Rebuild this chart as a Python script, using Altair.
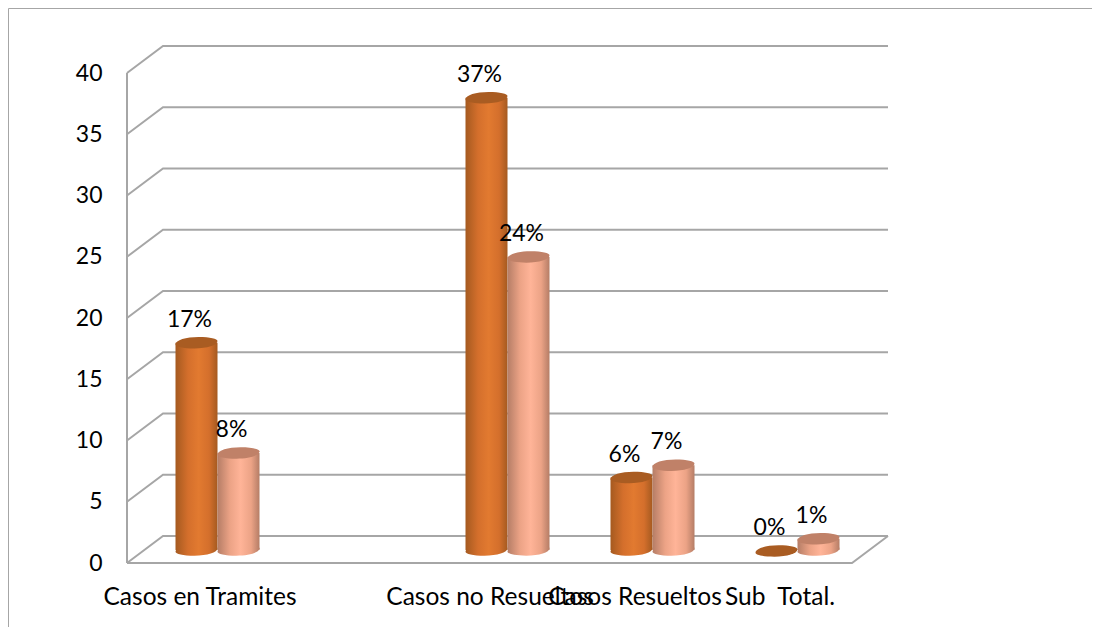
import json
import altair as alt
import pandas as pd

categories = ["Casos en Tramites", " ", "Casos no Resueltos", "Casos Resueltos", "Sub \u00a0Total."]
serie_a = [17, None, 37, 6, 0]
serie_b = [8, None, 24, 7, 1]
y_ticks = [0, 5, 10, 15, 20, 25, 30, 35, 40]

# 3D layout in data units
DX = 36 / 145      # wall depth along x (category units)
DY = 27 / 12.25    # wall depth along y (value units)
BX = 18 / 145      # depth of the bars along x
BY = 13 / 12.25    # depth of the bars along y (base)
TY = 12 / 12.25    # depth of the bars along y (top)
BW = 42 / 145      # bar width
N = len(categories)

FONT = "Lato"
GRID = "#a6a6a6"
rows = []
for i, (a, b) in enumerate(zip(serie_a, serie_b)):
    for s, v in (("a", a), ("b", b)):
        if v is None:
            continue
        c = i + 0.5 + BX
        x0 = c - BW if s == "a" else c
        rows.append(dict(serie=s, value=v, x0=x0, x1=x0 + BW, xc=x0 + BW / 2,
                         y0=BY, y1=v + TY, label=f"{v}%"))
bars = pd.DataFrame(rows)

grid_rows = []
for t in y_ticks:
    grid_rows += [dict(t=t, o=0, x=0, y=t), dict(t=t, o=1, x=DX, y=t + DY),
                  dict(t=t, o=2, x=N + DX, y=t + DY)]
grid = pd.DataFrame(grid_rows)
floor = pd.DataFrame([dict(o=0, x=0, y=0), dict(o=1, x=N, y=0), dict(o=2, x=N + DX, y=DY)])
wall = pd.DataFrame([dict(o=0, x=0, y=0), dict(o=1, x=0, y=y_ticks[-1])])

xs = alt.Scale(domain=[0, N + DX], nice=False, zero=False)
ys = alt.Scale(domain=[0, y_ticks[-1] + DY], nice=False, zero=False)


def grad(dark, mid, light):
    return alt.Gradient(
        gradient="linear", x1=0, x2=1, y1=0, y2=0,
        stops=[alt.GradientStop(offset=0, color=dark),
               alt.GradientStop(offset=0.3, color=mid),
               alt.GradientStop(offset=0.55, color=light),
               alt.GradientStop(offset=0.8, color=mid),
               alt.GradientStop(offset=1, color=dark)])


ORANGE = grad("#a55a20", "#d46f2c", "#e27a30")
PINK = grad("#b57d66", "#eca386", "#ffb498")
CAP = {"a": "#a95c22", "b": "#c08168"}
ELL = "M -1 0.08 C -1 -0.12 -0.5 -0.27 0.1 -0.27 C 0.65 -0.27 1 -0.18 1 -0.08 C 1 0.12 0.5 0.27 -0.1 0.27 C -0.65 0.27 -1 0.18 -1 0.08 Z"
SIZE = 42 ** 2

x_axis = alt.Axis(
    values=[i + 0.5 for i in range(N)], domain=False, ticks=False, grid=False,
    labelExpr=f"{json.dumps(categories)}[floor(datum.value)]",
    labelFont=FONT, labelFontSize=24.5, labelColor="#000000", labelPadding=22, labelLimit=400,
    labelOverlap=False, labelBound=False, labelFlush=False, title=None)
y_axis = alt.Axis(
    values=y_ticks, domain=False, ticks=False, grid=False,
    labelFont=FONT, labelFontSize=23, labelColor="#000000", labelPadding=25,
    labelOverlap=False, labelBound=False, labelFlush=False, title=None)


def X(f):
    return alt.X(f, scale=xs, axis=x_axis)


def Y(f):
    return alt.Y(f, scale=ys, axis=y_axis)


grid_l = alt.Chart(grid).mark_line(color=GRID, strokeWidth=2).encode(
    x=X("x:Q"), y=Y("y:Q"), detail="t:N", order="o:Q")
floor_l = alt.Chart(floor).mark_line(color=GRID, strokeWidth=2).encode(x=X("x:Q"), y=Y("y:Q"), order="o:Q")
wall_l = alt.Chart(wall).mark_line(color=GRID, strokeWidth=2).encode(x=X("x:Q"), y=Y("y:Q"), order="o:Q")

frame_top = alt.Chart().mark_rule(color="#a6a6a6", strokeWidth=1).encode(
    x=alt.value(-118.5), x2=alt.value(965), y=alt.value(-37.5))
frame_left = alt.Chart().mark_rule(color="#a6a6a6", strokeWidth=1).encode(
    x=alt.value(-118.5), y=alt.value(-37.5), y2=alt.value(581))


def cylinder(serie, fill):
    d = bars[bars.serie == serie]
    dv = d[d.value > 0]
    base = alt.Chart(dv).mark_point(shape=ELL, size=SIZE, filled=True, opacity=1, fill=fill, stroke=None).encode(
        x=X("xc:Q"), y=Y("y0:Q"))
    body = alt.Chart(dv).mark_rect(fill=fill).encode(
        x=X("x0:Q"), x2="x1:Q", y=Y("y0:Q"), y2="y1:Q")
    cap = alt.Chart(d).mark_point(shape=ELL, size=SIZE, filled=True, opacity=1, fill=CAP[serie], stroke=None).encode(
        x=X("xc:Q"), y=Y("y1:Q"))
    return base + body + cap


labels = alt.Chart(bars).mark_text(font=FONT, fontSize=23, color="#000000", dx=-7, dy=-23).encode(
    x=X("xc:Q"), y=Y("y1:Q"), text="label:N")

chart = alt.layer(
    frame_top, frame_left, grid_l, floor_l, wall_l,
    cylinder("a", ORANGE), cylinder("b", PINK), labels
).properties(
    width=761, height=517,
    padding={"left": 119, "top": 38, "right": 204, "bottom": 64},
    autosize=alt.AutoSizeParams(type="none"),
).configure_view(stroke=None)

chart.save("out.html", embed_options={"renderer": "svg", "actions": False})
